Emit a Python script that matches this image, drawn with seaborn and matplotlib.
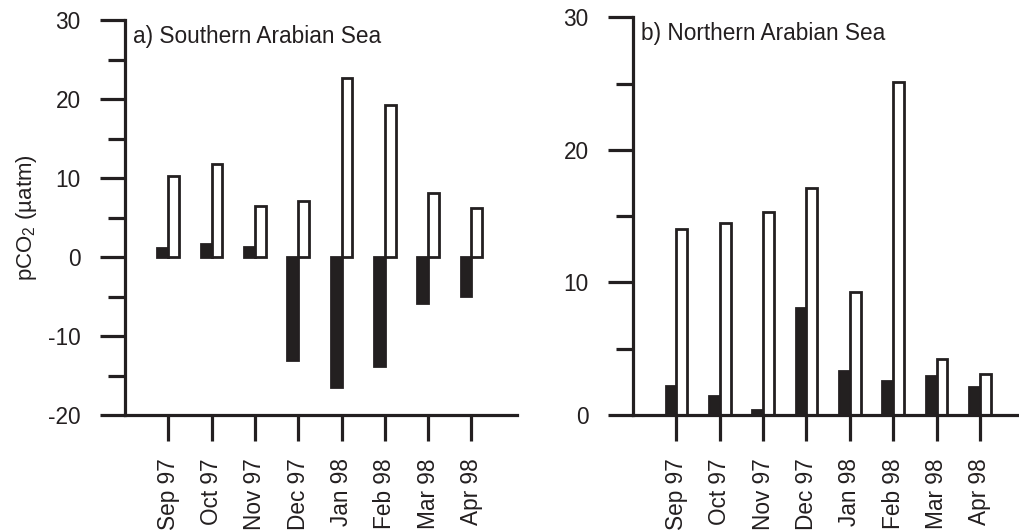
import matplotlib
matplotlib.use("Agg")
import matplotlib.pyplot as plt
from matplotlib.ticker import MultipleLocator
import seaborn as sns
import pandas as pd

months = ["Sep 97", "Oct 97", "Nov 97", "Dec 97", "Jan 98", "Feb 98", "Mar 98", "Apr 98"]
series = ["set A", "set B"]

south_a = [1.2, 1.7, 1.3, -13.0, -16.5, -13.8, -5.8, -4.9]
south_b = [10.3, 11.8, 6.5, 7.1, 22.7, 19.2, 8.1, 6.2]
north_a = [2.2, 1.4, 0.35, 8.1, 3.35, 2.55, 2.95, 2.1]
north_b = [14.0, 14.5, 15.3, 17.1, 9.3, 25.1, 4.25, 3.1]

ink = "#231f20"

sns.set_theme(style="white")
plt.rcParams["font.family"] = ["Liberation Sans", "DejaVu Sans"]
plt.rcParams["mathtext.fontset"] = "custom"
plt.rcParams["mathtext.rm"] = "Liberation Sans"
plt.rcParams["mathtext.it"] = "Liberation Sans"
plt.rcParams["axes.unicode_minus"] = False


def long_frame(a, b):
    return pd.DataFrame({
        "month": months * 2,
        "series": [series[0]] * len(months) + [series[1]] * len(months),
        "value": list(a) + list(b),
    })


fig = plt.figure(figsize=(10.2, 5.32), dpi=100)
ax1 = fig.add_axes([0.1225, 0.2199, 0.3843, 0.7425])
ax2 = fig.add_axes([0.6206, 0.2199, 0.3775, 0.7476])

panels = [
    (ax1, long_frame(south_a, south_b), (-20, 30), (-1.0, 8.05), "a) Southern Arabian Sea"),
    (ax2, long_frame(north_a, north_b), (0, 30), (-1.0, 7.88), "b) Northern Arabian Sea"),
]

for ax, df, ylim, xlim, title in panels:
    sns.barplot(data=df, x="month", y="value", hue="series", order=months,
                hue_order=series, palette={series[0]: ink, series[1]: "white"},
                width=0.5, edgecolor=ink, linewidth=2.0, errorbar=None,
                legend=False, ax=ax)
    ax.set_ylim(*ylim)
    ax.set_xlim(*xlim)
    ax.yaxis.set_major_locator(MultipleLocator(10))
    ax.yaxis.set_minor_locator(MultipleLocator(5))
    for side in ("top", "right"):
        ax.spines[side].set_visible(False)
    for side in ("left", "bottom"):
        ax.spines[side].set_linewidth(2.3)
        ax.spines[side].set_color(ink)
    ax.tick_params(axis="y", which="major", direction="out", length=18, width=2.3,
                   color=ink, pad=14, labelsize=16.3, labelcolor=ink, left=True)
    ax.tick_params(axis="y", which="minor", direction="out", length=12, width=2.3,
                   color=ink, left=True)
    ax.tick_params(axis="x", which="major", direction="out", length=19, width=2.3,
                   color=ink, pad=12, labelsize=16.3, labelcolor=ink, bottom=True)
    ax.set_xticks(range(len(months)))
    ax.set_xticklabels(months, rotation=90)
    ax.set_xlabel("")
    ax.set_ylabel("")
    ax.text(0.02, 0.943, title, transform=ax.transAxes, fontsize=16.3,
            color=ink, va="baseline", ha="left")
    ax.set_facecolor("white")

ax1.set_ylabel("pCO$_2$ (µatm)", fontsize=16, color=ink, labelpad=6)

fig.savefig("out.png", dpi=100, facecolor="white")
